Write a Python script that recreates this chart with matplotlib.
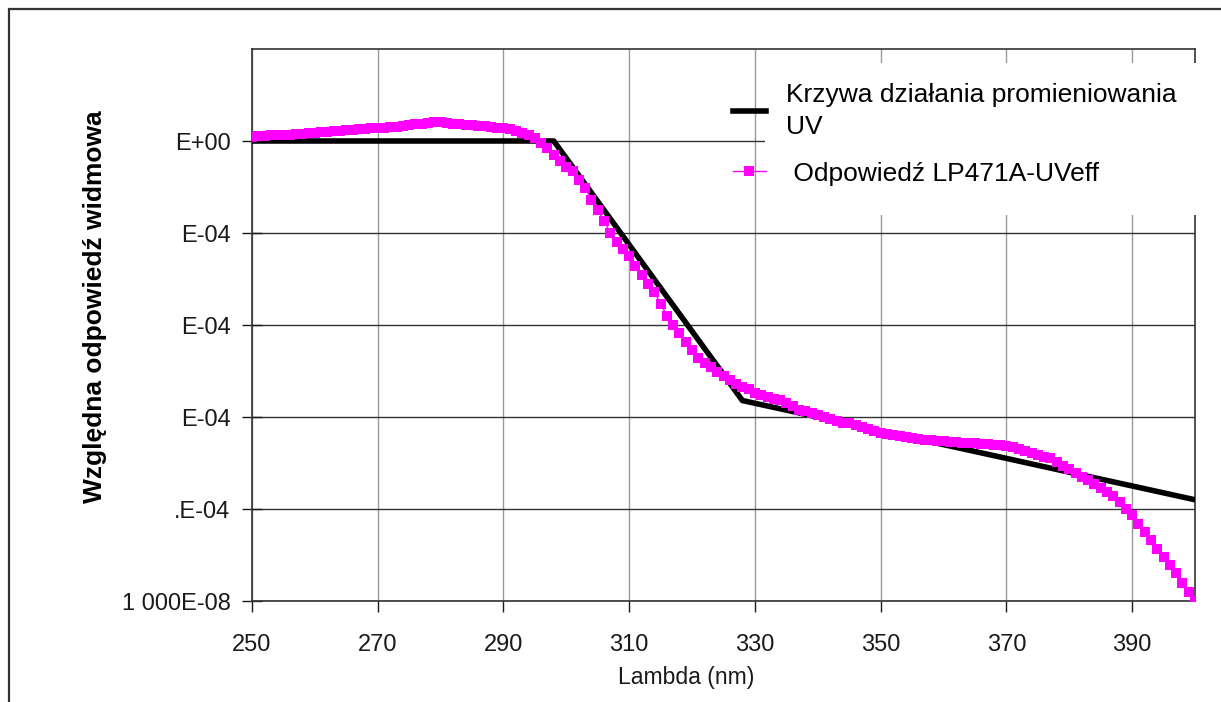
import matplotlib
matplotlib.use("Agg")
import matplotlib.pyplot as plt
from matplotlib.patches import Rectangle
from matplotlib.lines import Line2D

plt.rcParams['font.family'] = ['Liberation Sans', 'DejaVu Sans']

# CIE erythema action spectrum (black curve)
wavelength_ref = [250, 298, 300, 305, 310, 315, 320, 325, 328, 330,
                  340, 350, 360, 370, 380, 390, 400]
action_ref = [1.0, 1.0, 0.649, 0.220, 0.0745, 0.0252, 0.00855, 0.0029,
              0.00151, 0.00141, 0.001, 0.000708, 0.000501, 0.000355,
              0.000251, 0.000178, 0.000126]

# LP471A-UVeff response (magenta), one point per nm, log10 values
wavelength_meas = list(range(250, 401))
log10_resp = [
    0.04, 0.05, 0.05, 0.06, 0.06, 0.07, 0.07, 0.08, 0.08, 0.09,   # 250-259
    0.09, 0.10, 0.10, 0.11, 0.11, 0.12, 0.12, 0.13, 0.13, 0.14,   # 260-269
    0.14, 0.14, 0.15, 0.15, 0.16, 0.17, 0.18, 0.19, 0.20, 0.21,   # 270-279
    0.21, 0.20, 0.19, 0.18, 0.17, 0.17, 0.16, 0.16, 0.15, 0.14,   # 280-289
    0.14, 0.13, 0.11, 0.09, 0.06, 0.03, -0.02, -0.08, -0.15, -0.22,  # 290-299
    -0.28, -0.33, -0.42, -0.51, -0.64, -0.75, -0.87, -1.00, -1.10, -1.17,  # 300-309
    -1.25, -1.36, -1.46, -1.55, -1.64, -1.77, -1.90, -2.00, -2.09, -2.18,  # 310-319
    -2.27, -2.36, -2.41, -2.46, -2.51, -2.55, -2.60, -2.64, -2.67, -2.70,  # 320-329
    -2.74, -2.76, -2.78, -2.80, -2.82, -2.85, -2.88, -2.92, -2.94, -2.96,  # 330-339
    -2.98, -3.00, -3.02, -3.04, -3.06, -3.07, -3.09, -3.11, -3.13, -3.15,  # 340-349
    -3.17, -3.18, -3.20, -3.21, -3.22, -3.23, -3.24, -3.25, -3.25, -3.26,  # 350-359
    -3.26, -3.27, -3.27, -3.28, -3.28, -3.28, -3.29, -3.29, -3.30, -3.30,  # 360-369
    -3.31, -3.33, -3.35, -3.37, -3.39, -3.41, -3.43, -3.45, -3.49, -3.53,  # 370-379
    -3.57, -3.61, -3.65, -3.69, -3.73, -3.77, -3.81, -3.86, -3.92, -4.00,  # 380-389
    -4.07, -4.16, -4.25, -4.34, -4.43, -4.52, -4.61, -4.70, -4.80, -4.90,  # 390-399
    -5.00,                                                                  # 400
]
response_meas = [10 ** v for v in log10_resp]

x_ticks = [250, 270, 290, 310, 330, 350, 370, 390]
y_ticks = [1e-5, 1e-4, 1e-3, 1e-2, 1e-1, 1e0]
y_tick_labels = ["1 000E-08", ".E-04", "E-04", "E-04", "E-04", "E+00"]

label_ref = "Krzywa działania promieniowania\nUV"
label_meas = " Odpowiedź LP471A-UVeff"
x_title = "Lambda (nm)"
y_title = "Względna odpowiedź widmowa"

W, H = 1221, 702
fig = plt.figure(figsize=(W / 100, H / 100), dpi=100)
fig.patch.set_facecolor("white")
ax = fig.add_axes([252 / W, 1 - 601 / H, (1195 - 252) / W, (601 - 49) / H])

ax.set_yscale("log")
ax.set_xlim(250, 400)
ax.set_ylim(1e-5, 1e1)

ax.plot(wavelength_ref, action_ref, color="black", lw=4.0,
        solid_joinstyle="round", solid_capstyle="round", zorder=3)
ax.plot(wavelength_meas, response_meas, color="#FF00FF", lw=1.0,
        marker="s", markersize=7.6, markeredgewidth=0,
        markerfacecolor="#FF00FF", zorder=4)

ax.set_xticks(x_ticks)
ax.set_yticks(y_ticks)
ax.set_yticklabels(y_tick_labels)
ax.minorticks_off()
ax.tick_params(axis="x", direction="out", length=8, width=1, pad=16,
               labelsize=17, colors="#1a1a1a")
ax.tick_params(axis="y", direction="inout", length=15, width=1, pad=8,
               labelsize=17, colors="#1a1a1a")

ax.xaxis.grid(True, color="#999999", lw=1.0)
ax.yaxis.grid(True, color="#333333", lw=1.0)
ax.set_axisbelow(True)
for s in ax.spines.values():
    s.set_color("#333333")
    s.set_linewidth(1.2)

ax.set_xlabel(x_title, fontsize=16.6, color="#1a1a1a")
ax.xaxis.set_label_coords((686 - 252) / (1195 - 252), (601 - 666) / (601 - 49))
ax.set_ylabel(y_title, fontsize=19, fontweight="bold", color="black")
ax.yaxis.set_label_coords((107 - 252) / (1195 - 252), (601 - 307) / (601 - 49))

# white area behind the legend text
ax.add_patch(Rectangle((765 / W, 1 - 215 / H), (1205 - 765) / W, (215 - 63) / H,
                       transform=fig.transFigure, facecolor="white",
                       edgecolor="none", clip_on=False, zorder=4.5))

handles = [Line2D([], [], color="black", lw=4.0),
           Line2D([], [], color="#FF00FF", lw=1.0, marker="s",
                  markersize=7.6, markeredgewidth=0)]
leg = ax.legend(handles, [label_ref, label_meas], loc="upper left",
                bbox_to_anchor=(733 / W, 1 - 83 / H),
                bbox_transform=fig.transFigure, frameon=False,
                fontsize=19, handlelength=1.25, handletextpad=0.75,
                labelspacing=0.86, borderpad=0, borderaxespad=0)
leg.get_texts()[0].set_linespacing(1.42)
leg.set_zorder(6)

# outer frame (cut at right and bottom edges)
fig.add_artist(Rectangle((9 / W, -0.1), 1.2, 1.1 - 9 / H,
                         transform=fig.transFigure, fill=False,
                         edgecolor="#333333", lw=1.6))

fig.savefig("out.png", dpi=100)
